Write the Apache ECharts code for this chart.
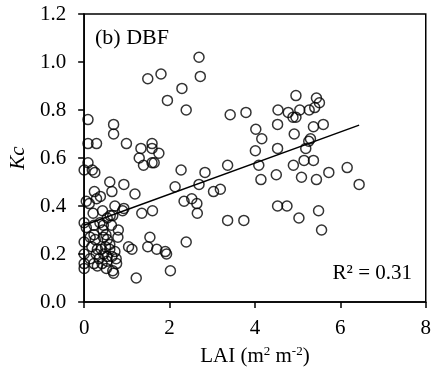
<!DOCTYPE html>
<html>
<head>
<meta charset="utf-8">
<script src="https://cdn.jsdelivr.net/npm/echarts@6/dist/echarts.min.js"></script>
<style>
html,body{margin:0;padding:0;background:#fff;}
#chart{width:434px;height:377px;}
</style>
</head>
<body>
<div id="chart"></div>
<script>
// LAI (m2 m-2) of each observation
const laiValues = [
  2.69,1.80,1.49,2.72,2.29,1.95,2.39,3.42,3.79,0.09,0.69,0.69,0.09,0.29,0.99,1.33,1.59,1.59,1.75,1.29,0.09,
  4.96,5.44,5.51,4.54,4.78,5.05,5.27,5.40,4.89,4.96,4.02,4.53,5.37,5.60,4.16,4.92,5.30,5.26,4.01,4.53,5.19,
  5.15,5.37,4.09,4.14,4.50,4.90,5.09,5.44,5.73,6.16,6.44,4.53,4.75,5.03,5.49,5.56,
  1.39,1.59,1.64,0.00,0.19,0.25,2.27,2.83,3.36,0.60,0.93,2.13,2.69,0.24,0.65,1.19,3.03,3.19,0.38,0.29,
  0.05,0.12,2.34,2.52,2.64,0.72,0.93,0.90,1.60,1.35,2.65,0.21,0.43,0.61,0.67,0.54,3.36,3.74,0.00,0.05,
  0.23,0.37,0.45,0.44,0.64,0.80,0.23,0.14,0.26,0.45,0.51,0.54,0.79,0.00,1.54,2.39,1.04,1.12,1.49,1.70,
  1.90,1.93,0.31,0.40,0.50,0.60,0.72,0.28,0.46,0.54,0.65,0.75,0.00,0.35,0.23,0.42,0.54,0.31,0.00,0.00,
  0.52,0.67,0.69,2.02,1.22,0.18,0.76,0.14,0.60
];
// Kc of each observation
const kcValues = [
  1.02,0.95,0.93,0.94,0.89,0.84,0.80,0.78,0.79,0.76,0.74,0.70,0.66,0.66,0.66,0.64,0.66,0.64,0.62,0.60,0.58,
  0.86,0.85,0.83,0.80,0.79,0.80,0.80,0.81,0.77,0.77,0.72,0.74,0.73,0.74,0.68,0.70,0.68,0.67,0.63,0.64,0.64,
  0.59,0.59,0.57,0.51,0.53,0.57,0.52,0.51,0.54,0.56,0.49,0.40,0.40,0.35,0.38,0.30,
  0.57,0.58,0.58,0.55,0.55,0.54,0.55,0.54,0.57,0.50,0.49,0.48,0.49,0.46,0.46,0.45,0.46,0.47,0.44,0.43,
  0.42,0.41,0.42,0.43,0.41,0.40,0.39,0.38,0.38,0.37,0.37,0.37,0.38,0.36,0.36,0.35,0.34,0.34,0.33,0.31,
  0.32,0.33,0.32,0.30,0.32,0.30,0.28,0.27,0.26,0.27,0.28,0.26,0.27,0.25,0.27,0.25,0.23,0.22,0.23,0.22,
  0.21,0.20,0.22,0.22,0.23,0.22,0.21,0.20,0.20,0.19,0.19,0.18,0.20,0.18,0.16,0.16,0.17,0.15,0.16,0.14,
  0.14,0.13,0.12,0.13,0.10,0.23,0.16,0.18,0.24
];
// Linear trend line end points
const trendLai = [0.00, 6.44];
const trendKc = [0.32, 0.737];
const xTicks = [0, 2, 4, 6, 8];
const yTicks = [0, 0.2, 0.4, 0.6, 0.8, 1.0, 1.2];
const panelLabel = '(b) DBF';
const r2Label = 'R² = 0.31';

const FONT = '"Liberation Serif","Times New Roman",serif';
const points = laiValues.map((v, i) => [v, kcValues[i]]);
const trend = trendLai.map((v, i) => [v, trendKc[i]]);

const chart = echarts.init(document.getElementById('chart'), null, {renderer: 'canvas'});
chart.setOption({
  animation: false,
  backgroundColor: '#fff',
  title: {
    text: panelLabel, left: 95, top: 27, padding: 0,
    textStyle: {fontFamily: FONT, fontSize: 22, fontWeight: 'normal', color: '#000'}
  },
  grid: {left: 79, right: 6, top: 14, bottom: 75, show: true, borderColor: '#000', borderWidth: 1.5, backgroundColor: 'transparent'},
  xAxis: {
    type: 'value', min: xTicks[0], max: xTicks[xTicks.length - 1], interval: 2,
    splitLine: {show: false},
    axisLine: {show: true, onZero: false, lineStyle: {color: '#000', width: 1.5}},
    axisTick: {show: true, inside: false, length: 6, lineStyle: {color: '#000', width: 1.5}},
    axisLabel: {margin: 16, color: '#000', fontFamily: FONT, fontSize: 21},
    name: 'LAI (m{sup|2} m{sup|-2})', nameLocation: 'middle', nameGap: 43,
    nameTextStyle: {color: '#000', fontFamily: FONT, fontSize: 21,
      rich: {sup: {fontFamily: FONT, fontSize: 13, color: '#000', padding: [0, 0, 9, 0]}}}
  },
  yAxis: {
    type: 'value', min: yTicks[0], max: yTicks[yTicks.length - 1], interval: 0.2,
    splitLine: {show: false},
    axisLine: {show: true, onZero: false, lineStyle: {color: '#000', width: 1.5}},
    axisTick: {show: true, inside: false, length: 6, lineStyle: {color: '#000', width: 1.5}},
    axisLabel: {margin: 18, color: '#000', fontFamily: FONT, fontSize: 21, formatter: v => v.toFixed(1)},
    name: 'Kc', nameLocation: 'middle', nameGap: 41,
    nameTextStyle: {color: '#000', fontFamily: FONT, fontSize: 21, fontStyle: 'italic'}
  },
  graphic: [{
    type: 'text', right: 22, top: 263,
    style: {text: r2Label, font: '21px ' + FONT, fill: '#000'}
  }],
  series: [{
    type: 'scatter', data: points, symbol: 'circle', symbolSize: 10,
    itemStyle: {color: 'transparent', borderColor: '#000', borderWidth: 1.5},
    z: 3
  }, {
    type: 'line', data: trend, symbol: 'none', silent: true,
    lineStyle: {color: '#000', width: 1.5}, z: 2
  }]
});
</script>
</body>
</html>
